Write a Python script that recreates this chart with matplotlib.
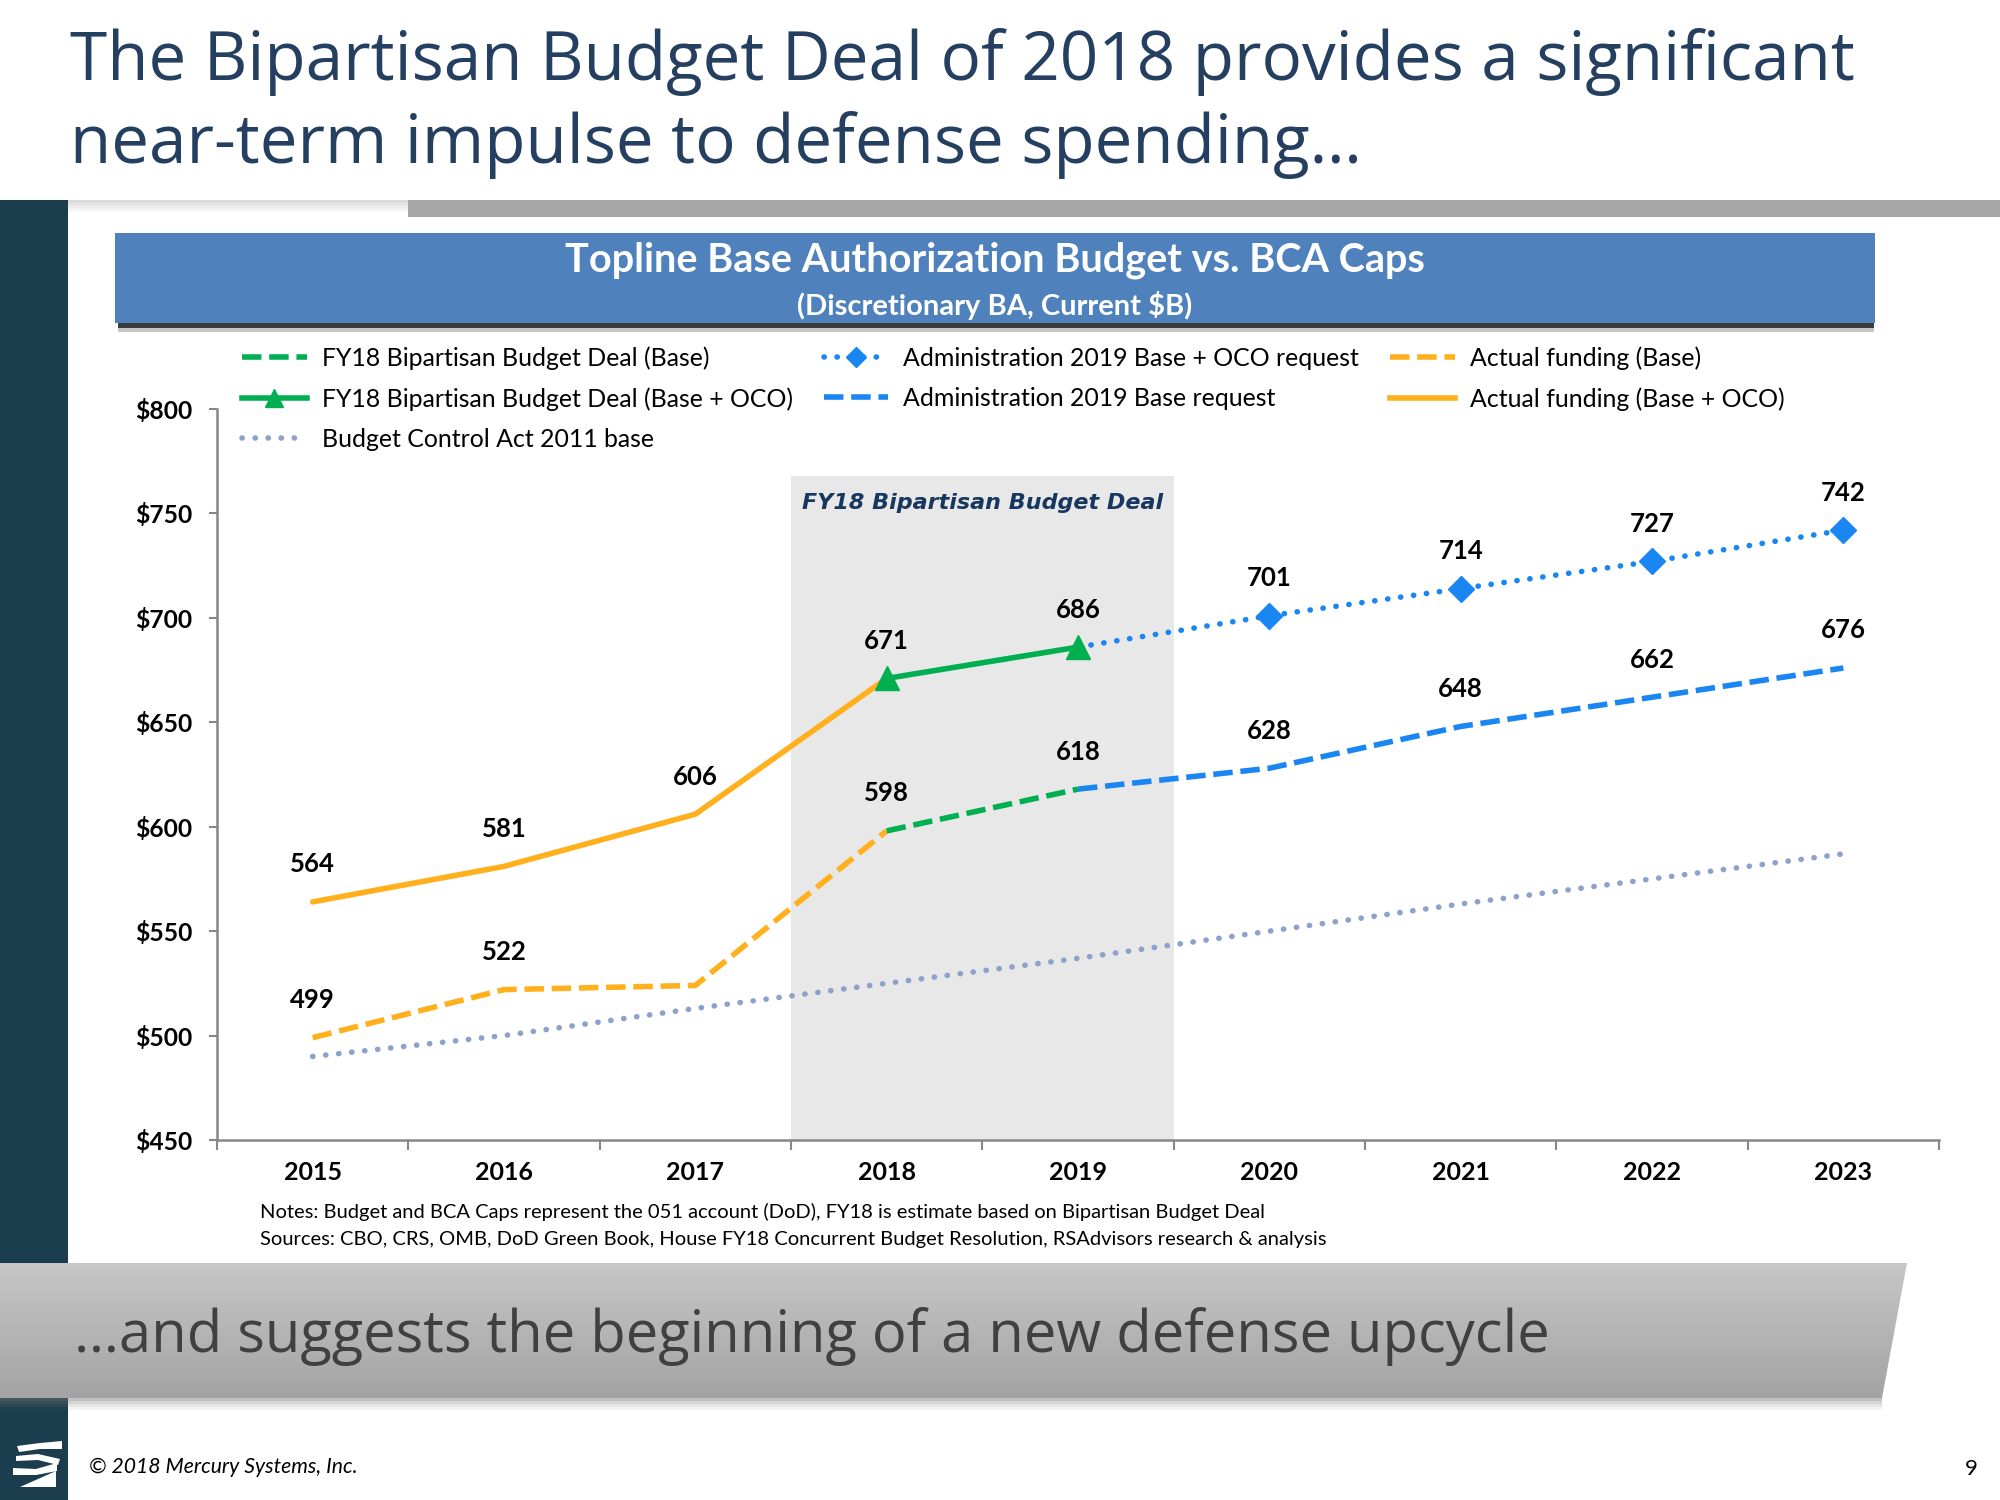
import numpy as np
import matplotlib
matplotlib.use('Agg')
import matplotlib.pyplot as plt
from matplotlib.patches import Rectangle, Polygon
from matplotlib.lines import Line2D

# ---- data ----
years = [2015, 2016, 2017, 2018, 2019, 2020, 2021, 2022, 2023]
actual_years = [2015, 2016, 2017, 2018]
actual_base = [499, 522, 524, 598]
actual_total = [564, 581, 606, 671]
deal_years = [2018, 2019]
deal_base = [598, 618]
deal_total = [671, 686]
admin_years = [2019, 2020, 2021, 2022, 2023]
admin_base = [618, 628, 648, 662, 676]
admin_total = [686, 701, 714, 727, 742]
bca_base = [490, 500, 513, 525, 537, 550, 563, 575, 587]
y_ticks = [450, 500, 550, 600, 650, 700, 750, 800]
deal_span = (2017.5, 2019.5)
deal_span_top = 768

ORANGE = '#FFB01C'
GREEN = '#00B050'
BLUE = '#1A86F2'
BCA = '#8EA1CC'
NAVY = '#243F60'
TEAL = '#1B3D4D'
GRAY = '#878787'

BODY = 'Lato'
HEAD = 'Open Sans'
LBL = 18.5

fig = plt.figure(figsize=(20, 15), dpi=100)
fig.patch.set_facecolor('white')

# ---- slide decoration, in pixel coordinates ----
deco = fig.add_axes([0, 0, 1, 1], zorder=0)
deco.set_xlim(0, 2000)
deco.set_ylim(1500, 0)
deco.axis('off')

deco.text(70, 80, 'The Bipartisan Budget Deal of 2018 provides a significant',
          fontsize=48.5, family=HEAD, color=NAVY, va='baseline')
deco.text(70, 163, 'near-term impulse to defense spending\u2026',
          fontsize=48.5, family=HEAD, color=NAVY, va='baseline')

# top gray rule with soft shadow to the left
deco.add_patch(Rectangle((408, 200), 1592, 17, color='#A6A6A6', lw=0))
for i, a in enumerate([0.35, 0.25, 0.15, 0.08]):
    deco.add_patch(Rectangle((68, 200 + i * 3), 340, 3, color='#9A9A9A', alpha=a, lw=0))

# left teal bar
deco.add_patch(Rectangle((0, 200), 68, 1300, color=TEAL, lw=0))

# blue chart header with shadow
deco.add_patch(Rectangle((118, 322), 1756, 6, color='#1A1A1A', lw=0, alpha=0.85))
deco.add_patch(Rectangle((118, 328), 1756, 4, color='#1A1A1A', lw=0, alpha=0.25))
deco.add_patch(Rectangle((115, 233), 1760, 90, color='#4F81BD', lw=0))
deco.text(995, 260, 'Topline Base Authorization Budget vs. BCA Caps', fontsize=28.5,
          family=BODY, weight='bold', color='white', ha='center', va='center')
deco.text(995, 306, '(Discretionary BA, Current $B)', fontsize=21,
          family=BODY, weight='bold', color='white', ha='center', va='center')

# notes
deco.text(260, 1212, 'Notes: Budget and BCA Caps represent the 051 account (DoD), '
          'FY18 is estimate based on Bipartisan Budget Deal',
          fontsize=14.5, family=BODY, color='black', va='center')
deco.text(260, 1239, 'Sources: CBO, CRS, OMB, DoD Green Book, House FY18 Concurrent '
          'Budget Resolution, RSAdvisors research & analysis',
          fontsize=14.5, family=BODY, color='black', va='center')

# gray footer banner with gradient
for i, a in enumerate([0.45, 0.3, 0.18, 0.08]):
    deco.add_patch(Polygon([(0, 1398 + i * 3), (1882, 1398 + i * 3),
                            (1882, 1401 + i * 3), (0, 1401 + i * 3)],
                           color='#777777', alpha=a, lw=0))
banner = Polygon([(0, 1263), (1907, 1263), (1882, 1398), (0, 1398)],
                 closed=True, facecolor='none', edgecolor='none')
deco.add_patch(banner)
grad = np.linspace(0, 1, 256).reshape(-1, 1)
top_c = np.array([0.78, 0.78, 0.78])
bot_c = np.array([0.64, 0.64, 0.64])
img = top_c + (bot_c - top_c) * grad[..., None]
im = deco.imshow(np.repeat(img, 2, axis=1), extent=(0, 1907, 1398, 1263),
                 origin='upper', aspect='auto', zorder=1)
im.set_clip_path(banner)
deco.text(74, 1352, '\u2026and suggests the beginning of a new defense upcycle',
          fontsize=41.7, family=HEAD, color='#404040', va='baseline', zorder=2)

# footer
deco.text(89, 1467, '\u00a9 2018 Mercury Systems, Inc.', fontsize=15.2, family=BODY,
          style='italic', color='black', va='center')
deco.text(1978, 1469, '9', fontsize=16, family=BODY, color='black',
          ha='right', va='center')

# little logo on the teal bar
logo = [
    [(17, 1446), (40, 1443), (62, 1441), (62, 1449), (40, 1449), (19, 1452)],
    [(16, 1456), (38, 1454), (60, 1459), (58, 1465), (38, 1460), (16, 1461)],
    [(13, 1468), (36, 1469), (57, 1463), (57, 1471), (36, 1475), (13, 1475)],
    [(20, 1487), (56, 1471), (56, 1487)],
]
for pts in logo:
    deco.add_patch(Polygon(pts, closed=True, color='white', lw=0, zorder=3))

# ---- chart ----
ax = fig.add_axes([217 / 2000, 1 - 1140 / 1500, (1939 - 217) / 2000, (1140 - 409) / 1500],
                  zorder=1)
ax.patch.set_alpha(0)
ax.set_xlim(2014.5, 2023.5)
ax.set_ylim(450, 800)

ax.add_patch(Rectangle((deal_span[0], 450), deal_span[1] - deal_span[0],
                       deal_span_top - 450, color='#E8E8E8', lw=0, zorder=0))
ax.text(sum(deal_span) / 2, 755, 'FY18 Bipartisan Budget Deal', fontsize=16,
        family='DejaVu Sans', weight='bold', style='italic', color='#17375E',
        ha='center', va='center', zorder=1)

dash = (0, (3.5, 1.4))
dots = (0, (0.05, 2.3))
l_bca, = ax.plot(years, bca_base, color=BCA, lw=4, ls=dots,
                 dash_capstyle='round', zorder=2)
l_abase, = ax.plot(actual_years, actual_base, color=ORANGE, lw=4, ls=dash, zorder=3)
l_atot, = ax.plot(actual_years, actual_total, color=ORANGE, lw=4, solid_capstyle='round',
                  zorder=3)
l_dbase, = ax.plot(deal_years, deal_base, color=GREEN, lw=4, ls=dash, zorder=4)
l_dtot, = ax.plot(deal_years, deal_total, color=GREEN, lw=4, marker='^', ms=17,
                  zorder=5)
l_mbase, = ax.plot(admin_years, admin_base, color=BLUE, lw=4, ls=dash, zorder=4)
l_mtot, = ax.plot(admin_years, admin_total, color=BLUE, lw=4, ls=dots,
                  dash_capstyle='round', marker='D', ms=13, markevery=[1, 2, 3, 4],
                  zorder=4)

# data labels
labels = []
labels += [(x, v) for i, (x, v) in enumerate(zip(actual_years, actual_base)) if i != 2]
labels += list(zip(actual_years, actual_total))
labels += [(deal_years[1], deal_base[1]), (deal_years[1], deal_total[1])]
labels += list(zip(admin_years[1:], admin_base[1:]))
labels += list(zip(admin_years[1:], admin_total[1:]))
for x, v in labels:
    ax.annotate(f'{v}', (x, v), xytext=(0, 27), textcoords='offset points',
                ha='center', va='center', fontsize=LBL, family=BODY,
                weight='bold', color='black', zorder=6)

for s in ['top', 'right']:
    ax.spines[s].set_visible(False)
for s in ['left', 'bottom']:
    ax.spines[s].set_color(GRAY)
    ax.spines[s].set_linewidth(1.8)

ax.set_xticks(years)
ax.set_xticklabels([str(y) for y in years])
ax.set_xticks(np.arange(2014.5, 2024, 1), minor=True)
ax.tick_params(axis='x', which='major', length=0, pad=15)
ax.tick_params(axis='x', which='minor', length=7, width=1.5, color=GRAY, direction='out')
ax.set_yticks(y_ticks)
ax.set_yticklabels([f'${v}' for v in y_ticks])
ax.tick_params(axis='y', length=6, width=1.5, color=GRAY, pad=12)
for lab in ax.get_xticklabels():
    lab.set_fontfamily(BODY)
    lab.set_fontweight('bold')
    lab.set_fontsize(18)
for lab in ax.get_yticklabels():
    lab.set_fontfamily(BODY)
    lab.set_fontweight('bold')
    lab.set_fontsize(17.7)

# legend, three columns like the slide
entries = [
    (l_dbase, dash, 'FY18 Bipartisan Budget Deal (Base)'),
    (l_dtot, '-', 'FY18 Bipartisan Budget Deal (Base + OCO)'),
    (l_bca, dots, 'Budget Control Act 2011 base'),
    (l_mtot, dots, 'Administration 2019 Base + OCO request'),
    (l_mbase, dash, 'Administration 2019 Base request'),
    (l_abase, dash, 'Actual funding (Base)'),
    (l_atot, '-', 'Actual funding (Base + OCO)'),
]
leg_handles = []
for h, ls, _ in entries:
    lh = Line2D([], [], color=h.get_color(), lw=h.get_linewidth(), ls=ls,
                marker=h.get_marker(), ms=h.get_markersize() * 0.8,
                dash_capstyle='round' if ls is dots else 'butt')
    if h is l_mtot:
        lh.set_markevery([1])
    leg_handles.append(lh)
fig.legend(leg_handles, [e[2] for e in entries], ncol=3, loc='upper left',
           bbox_to_anchor=(242 / 2000, 1 - 346 / 1500), frameon=False,
           prop={'family': BODY, 'size': 17.9}, handlelength=2.6, handletextpad=0.6,
           columnspacing=1.25, labelspacing=0.7, borderpad=0, borderaxespad=0)

fig.savefig('out.png', dpi=100)
